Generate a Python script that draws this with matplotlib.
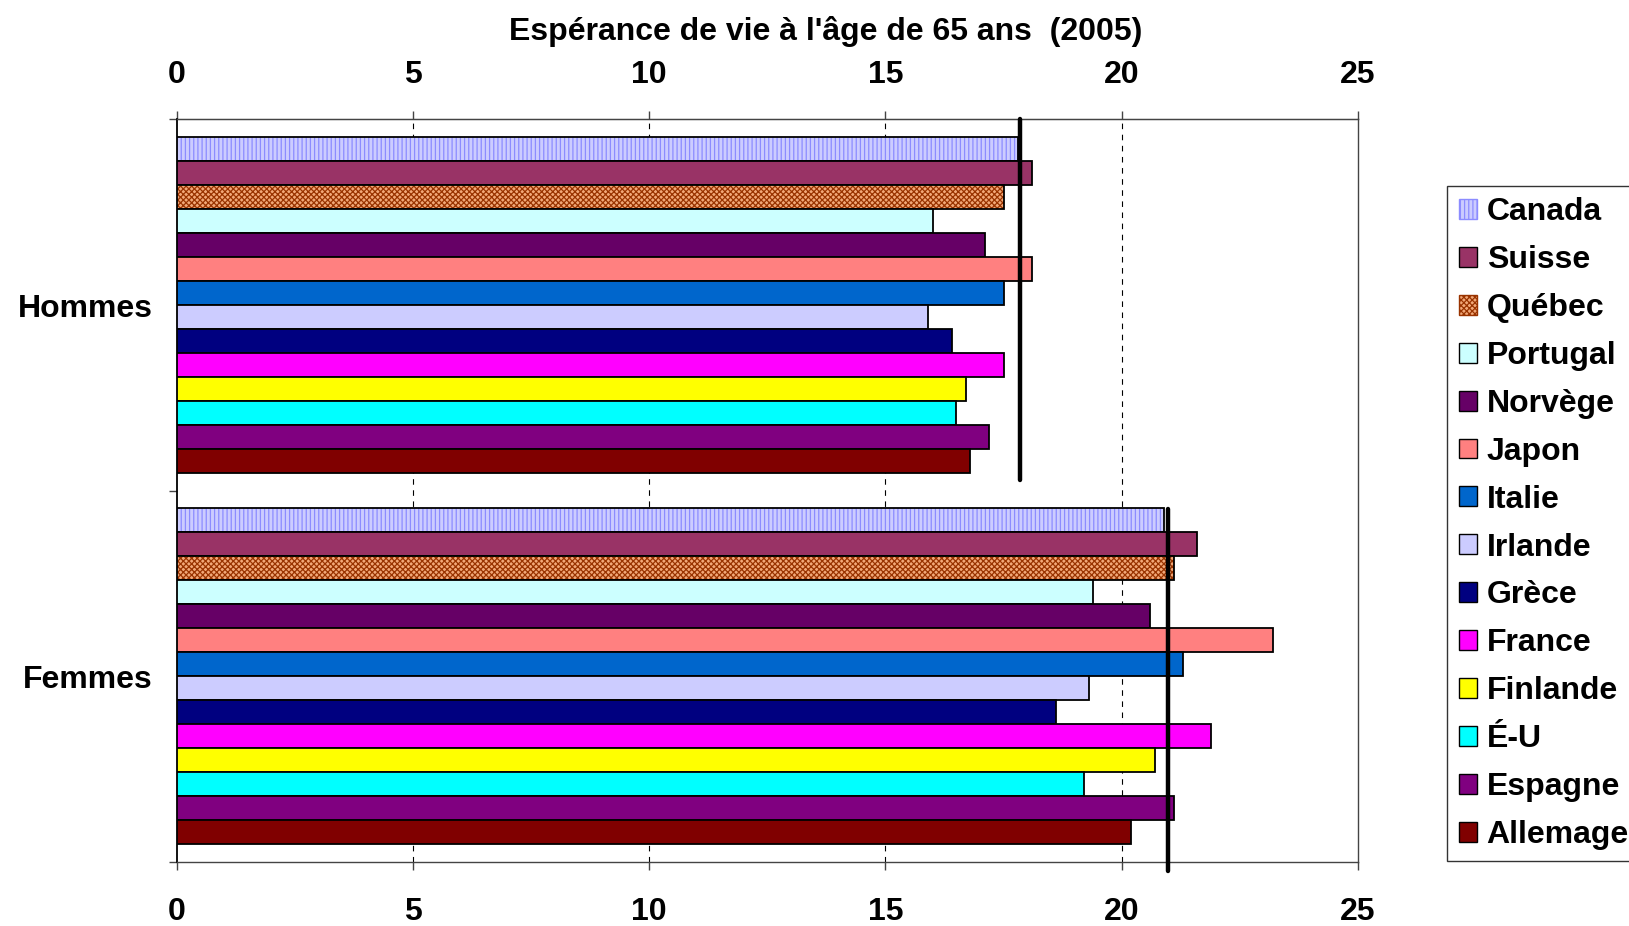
import matplotlib.pyplot as plt
from matplotlib.patches import Patch
import numpy as np

plt.rcParams['font.family'] = ['Liberation Sans', 'DejaVu Sans']
plt.rcParams['font.weight'] = 'bold'
plt.rcParams['hatch.linewidth'] = 0.9

groups = ["Hommes", "Femmes"]
pays = ["Canada", "Suisse", "Québec", "Portugal", "Norvège", "Japon", "Italie",
        "Irlande", "Grèce", "France", "Finlande", "É-U", "Espagne", "Allemage"]
hommes = [17.8, 18.1, 17.5, 16.0, 17.1, 18.1, 17.5, 15.9, 16.4, 17.5, 16.7, 16.5, 17.2, 16.8]
femmes = [20.9, 21.6, 21.1, 19.4, 20.6, 23.2, 21.3, 19.3, 18.6, 21.9, 20.7, 19.2, 21.1, 20.2]
moyennes = [17.85, 20.97]  # traits noirs (Canada)

couleurs = ["#CCCCFF", "#993366", "#F2A878", "#CCFFFF", "#660066", "#FF8080", "#0066CC",
            "#CCCCFF", "#000080", "#FF00FF", "#FFFF00", "#00FFFF", "#800080", "#800000"]
hachures = {0: ("||||", "#8C8CFF"), 2: ("xxxxxx", "#993300")}

fig = plt.figure(figsize=(16.29, 9.26), dpi=100)
ax = fig.add_axes([0.1084, 0.069, 0.7252, 0.802])

centres = [1, 0]
n = len(pays)
h = 0.905 / n
for g, vals in enumerate([hommes, femmes]):
    for i in range(n):
        y = centres[g] + (n / 2 - 0.5 - i) * h
        if i in hachures:
            hat, hc = hachures[i]
            ax.barh(y, vals[i], height=h, color=couleurs[i], edgecolor=hc,
                    hatch=hat, linewidth=0, zorder=3)
            ax.barh(y, vals[i], height=h, facecolor="none", edgecolor="black",
                    linewidth=1.3, zorder=3)
        else:
            ax.barh(y, vals[i], height=h, color=couleurs[i], edgecolor="black",
                    linewidth=1.3, zorder=3)

# traits verticaux
ax.plot([moyennes[0], moyennes[0]], [1.5, 0.528], color="black", lw=3.2, zorder=5,
        solid_capstyle="round", clip_on=False)
ax.plot([moyennes[1], moyennes[1]], [0.452, -0.524], color="black", lw=3.2, zorder=5,
        solid_capstyle="round", clip_on=False)

ax.set_xlim(0, 25)
ax.set_ylim(-0.5, 1.5)
ax.set_xticks(np.arange(0, 26, 5))
ax.tick_params(axis="x", labelsize=23, direction="out", length=6, width=1,
               color="#444444", pad=19)
haut = ax.secondary_xaxis("top")
haut.set_xticks(np.arange(0, 26, 5))
haut.tick_params(axis="x", labelsize=23, direction="out", length=6, width=1,
                 color="#444444", pad=15)
haut.spines["top"].set_color("#444444")
ax.set_yticks(centres)
ax.set_yticklabels(groups)
ax.set_yticks([-0.5, 0.5, 1.5], minor=True)
ax.tick_params(axis="y", which="major", length=0, labelsize=23, pad=17)
ax.tick_params(axis="y", which="minor", length=6, width=1, color="#444444")
for lab in ax.get_xticklabels() + ax.get_yticklabels() + haut.get_xticklabels():
    lab.set_fontweight("bold")

for x in [5, 10, 15, 20]:
    ax.axvline(x, color="black", lw=0.8, ls=(0, (5, 5)), zorder=1)

for s in ax.spines.values():
    s.set_color("#444444")
    s.set_linewidth(1)
ax.spines["left"].set_color("black")
ax.spines["left"].set_linewidth(1.3)

fig.text(0.5066, 0.9655, "Espérance de vie à l'âge de 65 ans  (2005)", ha="center",
         va="center", fontsize=23, fontweight="bold")

handles = []
for i in range(n):
    if i in hachures:
        hat, hc = hachures[i]
        handles.append(Patch(facecolor=couleurs[i], edgecolor=hc, hatch=hat))
    else:
        handles.append(Patch(facecolor=couleurs[i], edgecolor="black"))
leg = fig.legend(handles, pays, loc="upper left", bbox_to_anchor=(0.8885, 0.799),
                 prop={"size": 23, "weight": "bold"}, frameon=True, fancybox=False,
                 edgecolor="black", handlelength=0.58, handleheight=0.58,
                 handletextpad=0.3, labelspacing=0.56, borderpad=0.35,
                 borderaxespad=0)
leg.get_frame().set_linewidth(1)

fig.savefig("out.png", dpi=100)
